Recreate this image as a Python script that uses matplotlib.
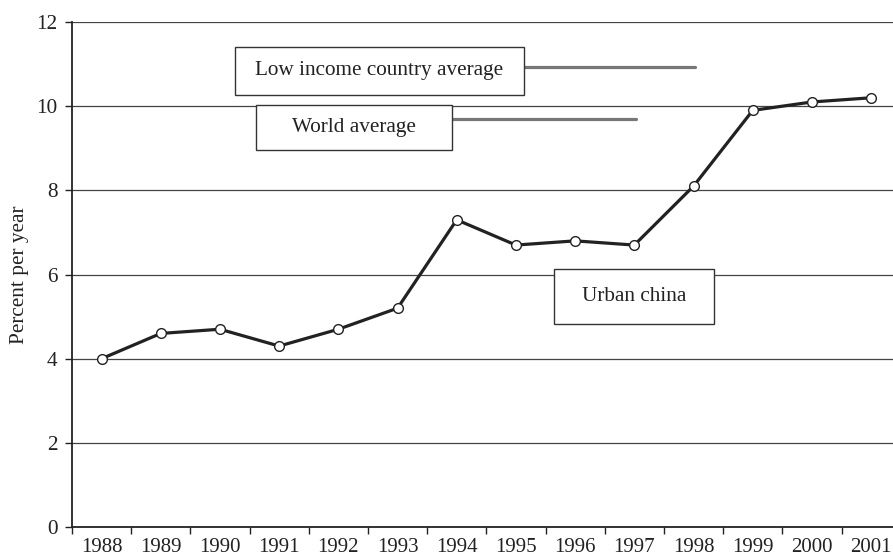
import matplotlib.pyplot as plt
from matplotlib.patches import Rectangle

plt.rcParams['font.family'] = ['Liberation Serif', 'DejaVu Serif']

years = ['1988', '1989', '1990', '1991', '1992', '1993', '1994',
         '1995', '1996', '1997', '1998', '1999', '2000', '2001']
urban_china = [4.0, 4.6, 4.7, 4.3, 4.7, 5.2, 7.3, 6.7, 6.8, 6.7, 8.1, 9.9, 10.1, 10.2]

low_income_avg = 10.92
world_avg = 9.70

fig = plt.figure(figsize=(8.93, 5.59), dpi=100)
ax = fig.add_axes([0.0806, 0.0572, 0.9194, 0.9034])

xs = [i + 0.5 for i in range(len(years))]

# gridlines
for y in range(2, 13, 2):
    ax.axhline(y, color='#444444', lw=0.9, zorder=1)

# reference averages
ax.plot([7.6, 10.52], [low_income_avg, low_income_avg], color='#777777', lw=2.3,
        solid_capstyle='round', zorder=2)
ax.plot([6.4, 9.53], [world_avg, world_avg], color='#777777', lw=2.3,
        solid_capstyle='round', zorder=2)

ax.plot(xs, urban_china, color='#222222', lw=2.3, marker='o', markersize=7,
        markerfacecolor='white', markeredgecolor='#222222', markeredgewidth=1.0, zorder=4)

# label boxes: (x0, y0, w, h, text)
boxes = [
    (2.755, 10.27, 4.88, 1.14, 'Low income country average'),
    (3.108, 8.97, 3.31, 1.07, 'World average'),
    (8.142, 4.82, 2.70, 1.31, 'Urban china'),
]
for x0, y0, w, h, label in boxes:
    ax.add_patch(Rectangle((x0, y0), w, h, facecolor='white', edgecolor='#333333',
                           lw=1.0, zorder=5))
    ax.text(x0 + w / 2, y0 + h / 2, label, ha='center', va='center',
            fontsize=15.3, color='#222222', zorder=6)

ax.set_xlim(0, 13.87)
ax.set_ylim(0, 12)
ax.set_yticks(range(0, 13, 2))
ax.set_xticks(range(0, 14))
ax.set_xticklabels([])
ax.set_xticks(xs, minor=True)
ax.set_xticklabels(years, minor=True)
ax.tick_params(axis='x', which='minor', length=0, pad=8, labelsize=15, labelcolor='#222222')
ax.tick_params(axis='x', which='major', length=5, width=1, color='#222222')
ax.tick_params(axis='y', length=5, width=1, color='#222222', labelsize=15.3, pad=5.5,
               labelcolor='#222222')

for s in ['top', 'right']:
    ax.spines[s].set_visible(False)
for s in ['left', 'bottom']:
    ax.spines[s].set_color('#222222')
    ax.spines[s].set_linewidth(1.3)
ax.spines['left'].set_zorder(7)
ax.spines['bottom'].set_zorder(7)

ax.set_ylabel('Percent per year', fontsize=15.3, color='#222222')
ax.yaxis.set_label_coords(-0.052, 0.5)

fig.savefig('out.png', dpi=100)
